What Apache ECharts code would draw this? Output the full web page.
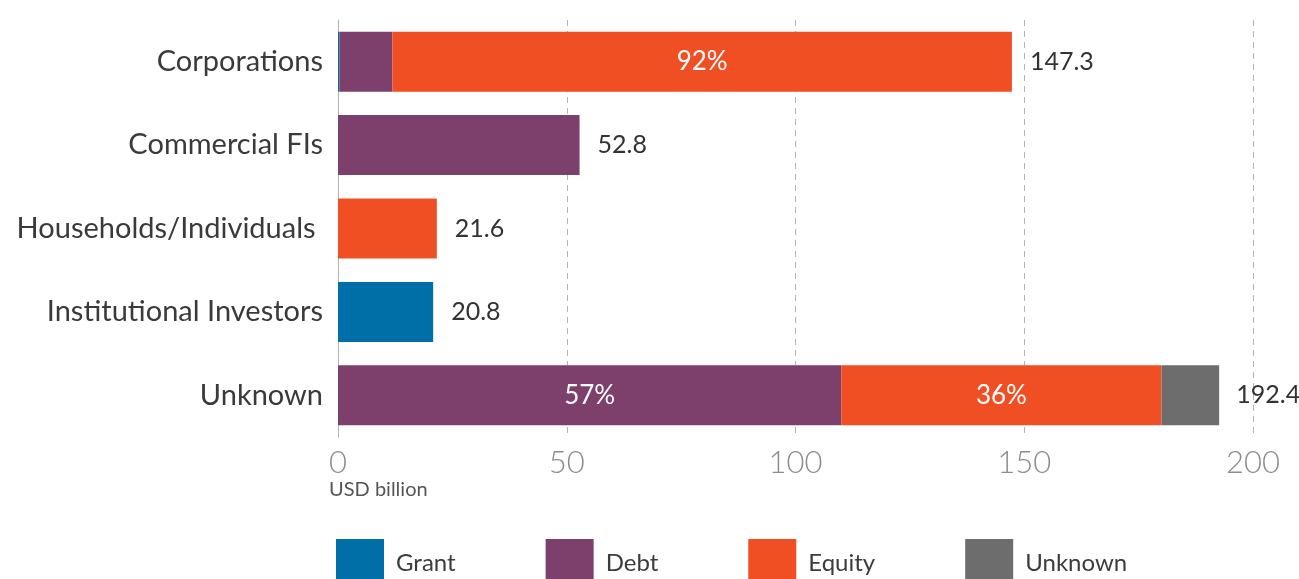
<!DOCTYPE html>
<html>
<head>
<meta charset="utf-8">
<script src="https://cdn.jsdelivr.net/npm/echarts@6/dist/echarts.min.js"></script>
<style>
  html, body { margin: 0; padding: 0; background: #fff; }
  #chart { width: 1299px; height: 579px; }
</style>
</head>
<body>
<div id="chart"></div>
<script>
// investor types, top to bottom
const categories = ['Corporations', 'Commercial FIs', 'Households/Individuals ', 'Institutional Investors', 'Unknown'];
// USD billion per instrument
const grantValues = [0.3, 0, 0, 20.8, 0];
const debtValues = [11.6, 52.8, 0, 0, 110.0];
const equityValues = [135.4, 0, 21.6, 0, 70.0];
const unknownValues = [0, 0, 0, 0, 12.6];
const totals = [147.3, 52.8, 21.6, 20.8, 192.4];
const xTicks = [0, 50, 100, 150, 200];

const FONT = 'Lato, "Open Sans", sans-serif';
const colors = { Grant: '#006fa8', Debt: '#7d3f6b', Equity: '#f04e23', Unknown: '#6d6d6d' };

// share label only on the big segments that do not fill the whole bar
function pctLabel(p) {
  const share = p.value / totals[p.dataIndex];
  if (p.value < 50 || share > 0.99) return '';
  return Math.round(share * 100) + '%';
}

function part(name, values) {
  return {
    name: name,
    type: 'bar',
    stack: 'all',
    barWidth: 60,
    data: values,
    itemStyle: { color: colors[name] },
    label: {
      show: true,
      position: 'inside',
      color: '#fff',
      fontFamily: FONT,
      fontSize: 26,
      padding: [5, 0, 0, 0],
      formatter: pctLabel
    }
  };
}

const chart = echarts.init(document.getElementById('chart'));
chart.setOption({
  animation: false,
  textStyle: { fontFamily: FONT },
  title: {
    text: 'USD billion',
    left: 329,
    top: 480,
    padding: 0,
    textStyle: { fontFamily: FONT, fontSize: 20, fontWeight: 'normal', color: '#555' }
  },
  legend: {
    data: ['Grant', 'Debt', 'Equity', 'Unknown'],
    left: 336,
    top: 539,
    padding: 0,
    icon: 'rect',
    itemWidth: 48,
    itemHeight: 48,
    itemGap: 90,
    textStyle: { fontFamily: FONT, fontSize: 24, color: '#3c3c3c', padding: [0, 0, 0, 7] }
  },
  grid: { left: 338, right: 46, top: 20, bottom: 142 },
  xAxis: {
    type: 'value',
    min: xTicks[0],
    max: xTicks[xTicks.length - 1],
    interval: 50,
    axisLine: { show: false },
    axisTick: { show: false },
    axisLabel: { fontFamily: FONT, fontSize: 31, fontWeight: 300, color: '#8c8c8c', margin: 10 },
    splitLine: {
      show: true,
      lineStyle: { type: [6, 5], color: '#b4b4b4', width: 1 }
    }
  },
  yAxis: {
    type: 'category',
    data: categories,
    inverse: true,
    axisLine: { show: true, lineStyle: { color: '#b4b4b4', width: 1 } },
    axisTick: { show: false },
    axisLabel: { fontFamily: FONT, fontSize: 29, color: '#3a3a3a', margin: 15, padding: [6, 0, 0, 0] }
  },
  series: [
    part('Grant', grantValues),
    part('Debt', debtValues),
    part('Equity', equityValues),
    part('Unknown', unknownValues),
    {
      name: 'Total',
      type: 'bar',
      barWidth: 60,
      barGap: '-100%',
      data: totals,
      silent: true,
      itemStyle: { color: 'rgba(0,0,0,0)' },
      label: {
        show: true,
        position: 'right',
        distance: 18,
        color: '#333',
        fontFamily: FONT,
        fontSize: 25,
        padding: [4, 0, 0, 0]
      },
      z: 1
    }
  ]
});
</script>
</body>
</html>
